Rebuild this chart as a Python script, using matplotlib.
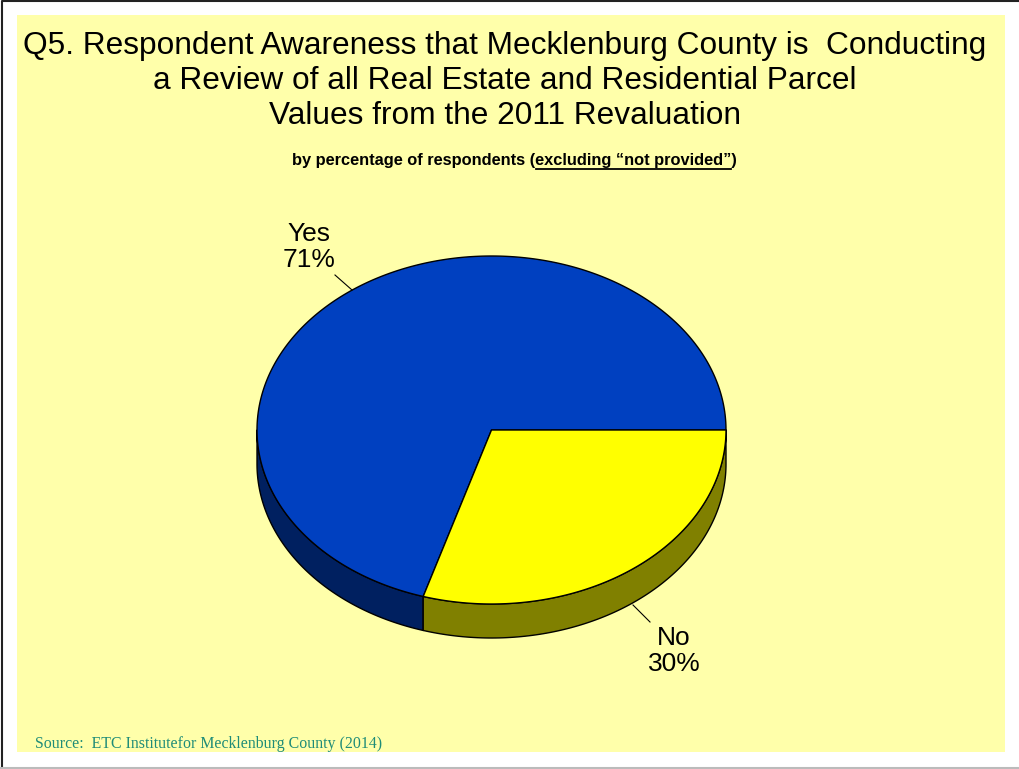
import numpy as np
import matplotlib
matplotlib.use("Agg")
import matplotlib.pyplot as plt
from matplotlib.patches import Polygon, Rectangle

# data
labels = ["Yes", "No"]
values = [71, 30]
top_colors = ["#0040C0", "#FFFF00"]
side_colors = ["#002060", "#808000"]

title = ("Q5. Respondent Awareness that Mecklenburg County is  Conducting\n"
         "a Review of all Real Estate and Residential Parcel\n"
         "Values from the 2011 Revaluation")
sub_pre = "by percentage of respondents ("
sub_ul = "excluding \u201cnot provided\u201d"
sub_post = ")"
source = "Source:  ETC Institutefor Mecklenburg County (2014)"

W, H = 1020, 769
fig = plt.figure(figsize=(W / 100, H / 100), dpi=100)
ax = fig.add_axes([0, 0, 1, 1])
ax.set_xlim(0, W)
ax.set_ylim(H, 0)
ax.axis("off")

# frame + yellow panel
ax.plot([2.5, 2.5, W], [H, 0.5, 0.5], color="#222222", lw=1.5)
ax.plot([0, W], [H - 1, H - 1], color="#bbbbbb", lw=1.5)
ax.add_patch(Rectangle((17, 15), 988, 737, facecolor="#FFFFAA", edgecolor="none"))

# 3d pie geometry (pixels)
cx, cy, rx, ry, depth = 491.5, 430, 234.5, 174, 34


def pt(t, dz=0.0):
    return cx + rx * np.cos(t), cy - ry * np.sin(t) + dz


fracs = np.array(values, dtype=float) / sum(values)
bounds = np.concatenate([[0], np.cumsum(fracs)]) * 2 * np.pi

# sides (front half only, pi..2pi)
for i in range(len(values)):
    a0, a1 = max(bounds[i], np.pi), min(bounds[i + 1], 2 * np.pi)
    if a1 <= a0:
        continue
    t = np.linspace(a0, a1, 120)
    xs, ys = pt(t)
    xb, yb = pt(t[::-1], depth)
    poly = np.column_stack([np.concatenate([xs, xb]), np.concatenate([ys, yb])])
    ax.add_patch(Polygon(poly, closed=True, facecolor=side_colors[i],
                         edgecolor="black", lw=1, joinstyle="round"))

# tops
for i in range(len(values)):
    t = np.linspace(bounds[i], bounds[i + 1], 300)
    xs, ys = pt(t)
    poly = np.column_stack([np.concatenate([[cx], xs]), np.concatenate([[cy], ys])])
    ax.add_patch(Polygon(poly, closed=True, facecolor=top_colors[i],
                         edgecolor="black", lw=1, joinstyle="round"))

# labels with leader lines
lab_font = dict(family=["Liberation Sans", "DejaVu Sans"], fontsize=19,
                ha="center", va="center", linespacing=1.1)
ax.text(309, 247, f"{labels[0]}\n{values[0]}%", **lab_font)
ax.plot([335, 352], [275, 290], color="black", lw=0.8)
ax.text(674, 651, f"{labels[1]}\n{values[1]}%", **lab_font)
ax.plot([633, 650], [605, 622], color="black", lw=0.8)

# title
ax.text(505, 81, title, family=["Liberation Sans", "DejaVu Sans"], fontsize=22.8,
        ha="center", va="center", linespacing=1.2)

# subtitle with underlined part
sub_font = dict(family=["Liberation Sans", "DejaVu Sans"], fontsize=11.8, fontweight="bold")
full = sub_pre + sub_ul + sub_post
tx = ax.text(514, 160, full, ha="center", va="center", **sub_font)
fig.canvas.draw()
r = fig.canvas.get_renderer()
bb = tx.get_window_extent(r)
m1 = ax.text(0, 0, sub_pre, **sub_font)
m2 = ax.text(0, 0, sub_pre + sub_ul, **sub_font)
w1 = m1.get_window_extent(r).width
w2 = m2.get_window_extent(r).width
m1.remove()
m2.remove()
ax.plot([bb.x0 + w1 + 1, bb.x0 + w2], [168.5, 168.5], color="black", lw=1.3)

# source
ax.text(35, 744, source, family=["Liberation Serif", "DejaVu Serif"], fontsize=11.4,
        color="#1E8C78", ha="left", va="center")

fig.savefig("out.png", dpi=100)
